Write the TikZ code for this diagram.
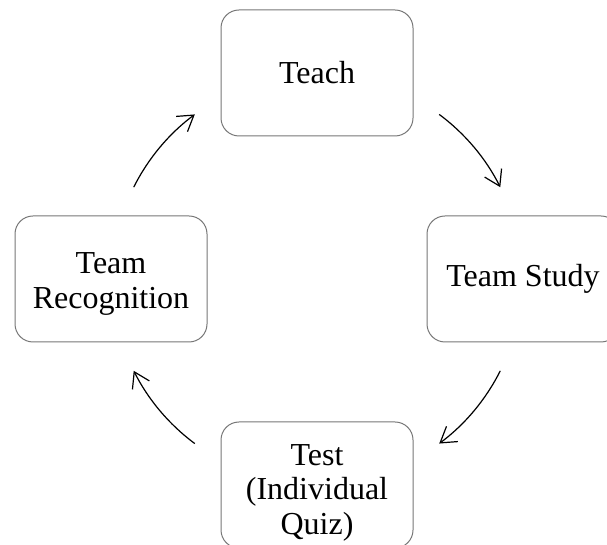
\documentclass[tikz,border=0pt]{standalone}
\usepackage{fontspec}
\setmainfont{Liberation Serif}
\usetikzlibrary{arrows.meta}
\definecolor{boxgray}{RGB}{119,119,119}
\newcommand{\stagelines}[2][12pt]{\parbox{190pt}{\centering\vspace*{#1}#2}}
\begin{document}
\begin{tikzpicture}[x=1pt,y=1pt,
  stagebox/.style={draw=boxgray, line width=1pt, rounded corners=18pt,
    minimum width=192pt, minimum height=126pt, align=center,
    font=\fontsize{32}{34.5}\selectfont, inner sep=0pt},
  cyc/.style={line width=1.2pt, -{Straight Barb[length=15pt,width=19pt,line width=1.2pt]}}]
\useasboundingbox (0,0) rectangle (607,545);
\coordinate (ctr) at (317,266);
\node[stagebox] (teach) at (317,472) {Teach};
\node[stagebox] (study) at (523,266) {Team Study};
\node[stagebox] (test) at (317,60) {\stagelines[15pt]{Test\\(Individual\\Quiz)}};
\node[stagebox] (recog) at (111,266) {\stagelines[10pt]{Team\\Recognition}};
\draw[cyc] ([shift={(53.4:205pt)}]ctr) arc[start angle=53.4, end angle=26.6, radius=205pt];
\draw[cyc] ([shift={(-26.6:205pt)}]ctr) arc[start angle=-26.6, end angle=-53.4, radius=205pt];
\draw[cyc] ([shift={(233.4:205pt)}]ctr) arc[start angle=233.4, end angle=206.6, radius=205pt];
\draw[cyc] ([shift={(153.4:205pt)}]ctr) arc[start angle=153.4, end angle=126.6, radius=205pt];
\end{tikzpicture}
\end{document}
